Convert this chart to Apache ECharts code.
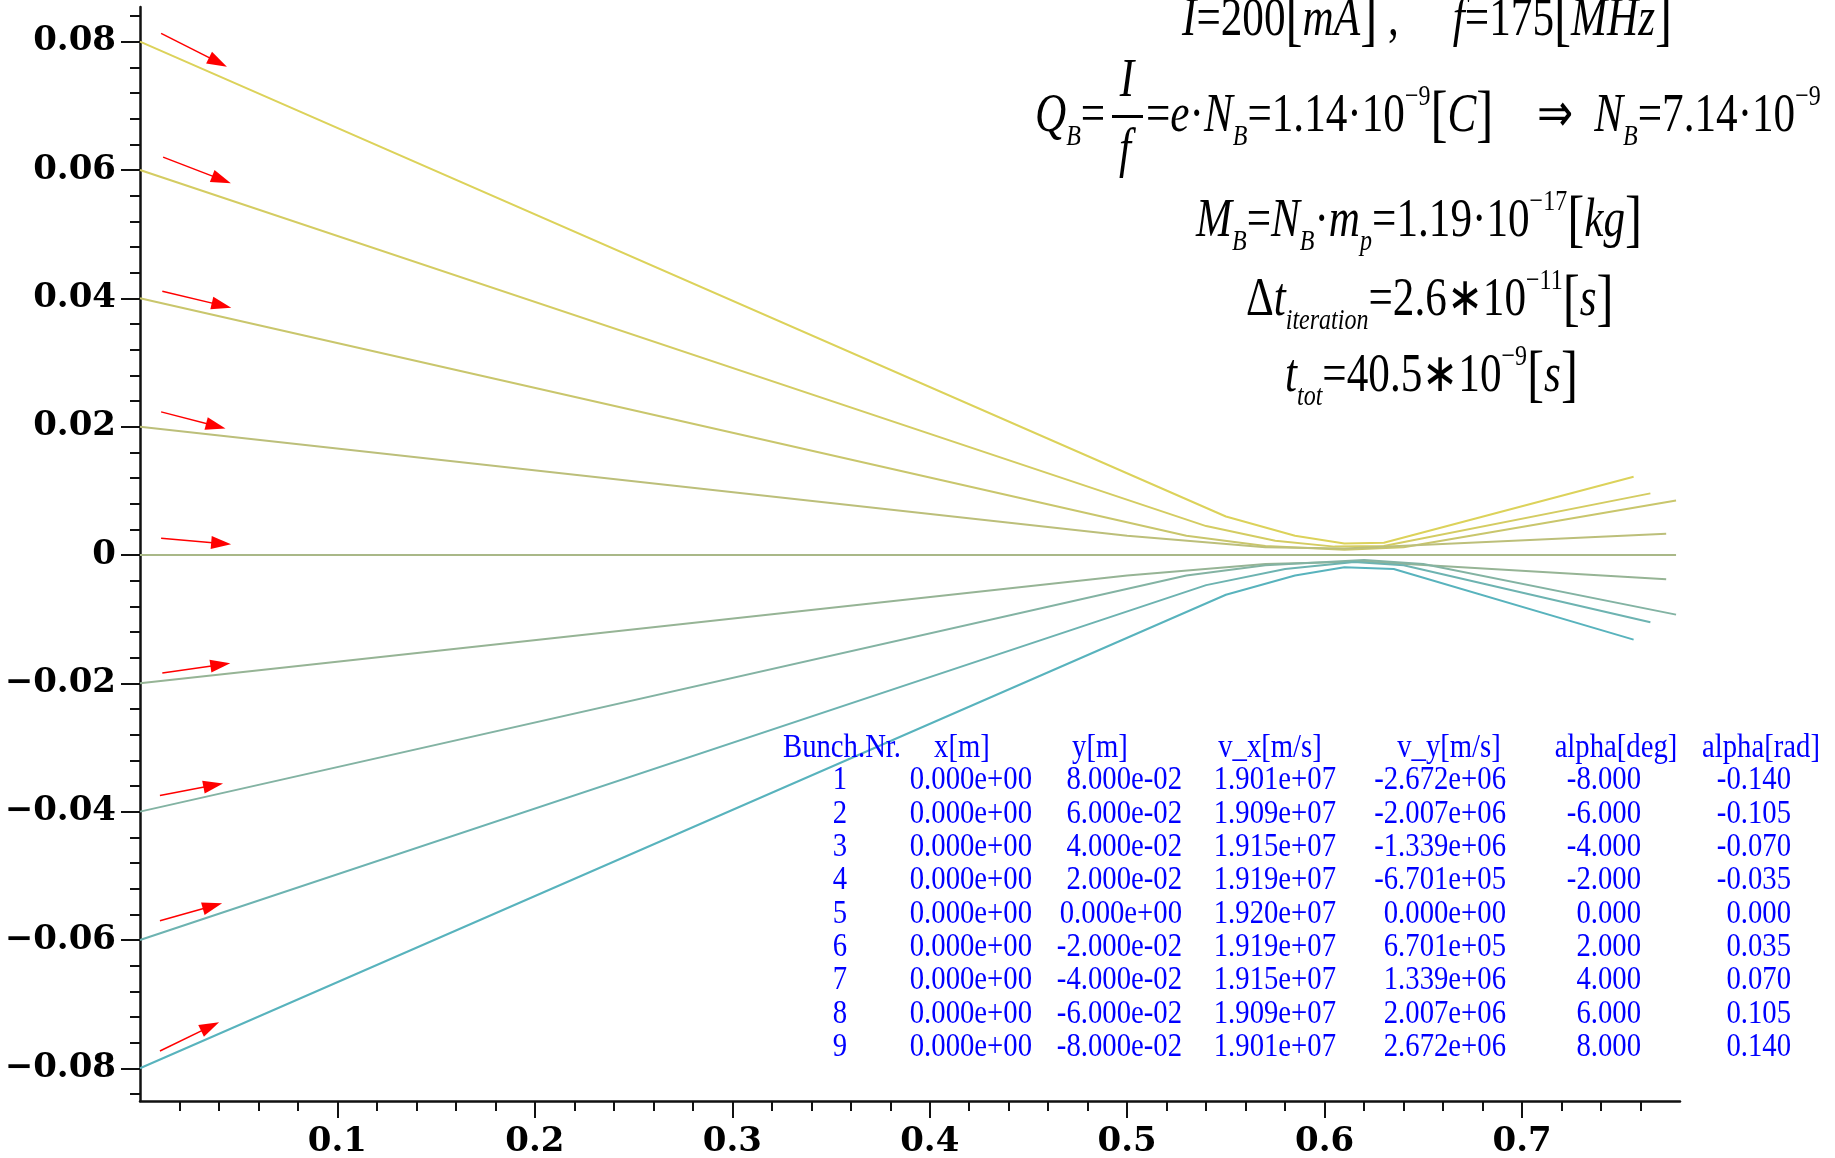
<!DOCTYPE html>
<html>
<head>
<meta charset="utf-8">
<script src="https://cdn.jsdelivr.net/npm/echarts@6/dist/echarts.min.js"></script>
<style>
  html, body { margin: 0; padding: 0; background: #fff; }
  #chart { width: 1835px; height: 1158px; }
</style>
</head>
<body>
<div id="chart"></div>
<script>
// bunch trajectories, y[m] against x[m]
const bunch1 = [[0, 0.08], [0.55, 0.0060], [0.585, 0.0030], [0.61, 0.0018], [0.63, 0.0019], [0.7565, 0.0122]];
const bunch2 = [[0, 0.06], [0.54, 0.0045], [0.575, 0.0022], [0.605, 0.0013], [0.63, 0.0014], [0.765, 0.0096]];
const bunch3 = [[0, 0.04], [0.53, 0.0030], [0.57, 0.0014], [0.61, 0.0008], [0.64, 0.0012], [0.778, 0.0085]];
const bunch4 = [[0, 0.02], [0.5, 0.0030], [0.57, 0.0012], [0.61, 0.0010], [0.773, 0.0033]];
const bunch5 = [[0, 0], [0.778, 0]];
const bunch6 = [[0, -0.02], [0.5, -0.0032], [0.57, -0.0014], [0.62, -0.0010], [0.773, -0.0038]];
const bunch7 = [[0, -0.04], [0.53, -0.0032], [0.57, -0.0016], [0.62, -0.0008], [0.65, -0.0014], [0.778, -0.0093]];
const bunch8 = [[0, -0.06], [0.54, -0.0047], [0.58, -0.0022], [0.615, -0.0011], [0.64, -0.0016], [0.765, -0.0105]];
const bunch9 = [[0, -0.08], [0.55, -0.0062], [0.585, -0.0032], [0.61, -0.0019], [0.635, -0.0022], [0.7565, -0.0132]];
const bunches = [bunch1, bunch2, bunch3, bunch4, bunch5, bunch6, bunch7, bunch8, bunch9];
const bunchColors = ['#dcd25a', '#d4cc62', '#c9c66c', '#bcbf7a', '#a9b888', '#96b495', '#83b3a3', '#6db3b1', '#58b3bd'];

// red start arrows [x1, y1, x2, y2]
const arrows = [
  [0.0107, 0.0813, 0.0395, 0.0768],
  [0.0117, 0.0620, 0.0413, 0.0585],
  [0.0113, 0.0411, 0.0413, 0.0389],
  [0.0107, 0.0223, 0.0384, 0.0201],
  [0.0107, 0.0026, 0.0411, 0.0018],
  [0.0113, -0.0184, 0.0407, -0.0171],
  [0.0101, -0.0375, 0.0371, -0.0359],
  [0.0101, -0.0570, 0.0367, -0.0547],
  [0.0101, -0.0773, 0.0355, -0.0735]
];

// ticks
const xMajorTicks = [0.1, 0.2, 0.3, 0.4, 0.5, 0.6, 0.7];
const xMinorTicks = [0.02, 0.04, 0.06, 0.08, 0.12, 0.14, 0.16, 0.18, 0.22, 0.24, 0.26, 0.28,
  0.32, 0.34, 0.36, 0.38, 0.42, 0.44, 0.46, 0.48, 0.52, 0.54, 0.56, 0.58,
  0.62, 0.64, 0.66, 0.68, 0.72, 0.74, 0.76];
const yMajorTicks = [-0.08, -0.06, -0.04, -0.02, 0, 0.02, 0.04, 0.06, 0.08];
const yMinorTicks = [];
for (let i = -21; i <= 21; i++) yMinorTicks.push(+(i * 0.004).toFixed(3));

// table
const tableHeaders = ['Bunch.Nr.', 'x[m]', 'y[m]', 'v_x[m/s]', 'v_y[m/s]', 'alpha[deg]', 'alpha[rad]'];
const bunchNr = ['1', '2', '3', '4', '5', '6', '7', '8', '9'];
const xPos = ['0.000e+00', '0.000e+00', '0.000e+00', '0.000e+00', '0.000e+00', '0.000e+00', '0.000e+00', '0.000e+00', '0.000e+00'];
const yPos = ['8.000e-02', '6.000e-02', '4.000e-02', '2.000e-02', '0.000e+00', '-2.000e-02', '-4.000e-02', '-6.000e-02', '-8.000e-02'];
const vX = ['1.901e+07', '1.909e+07', '1.915e+07', '1.919e+07', '1.920e+07', '1.919e+07', '1.915e+07', '1.909e+07', '1.901e+07'];
const vY = ['-2.672e+06', '-2.007e+06', '-1.339e+06', '-6.701e+05', '0.000e+00', '6.701e+05', '1.339e+06', '2.007e+06', '2.672e+06'];
const alphaDeg = ['-8.000', '-6.000', '-4.000', '-2.000', '0.000', '2.000', '4.000', '6.000', '8.000'];
const alphaRad = ['-0.140', '-0.105', '-0.070', '-0.035', '0.000', '0.035', '0.070', '0.105', '0.140'];

const myChart = echarts.init(document.getElementById('chart'));

const axisFont = {fontFamily: 'DejaVu Serif', fontWeight: 'bold', fontSize: 34, color: '#000'};

// formulas
const F = 'Liberation Serif';
const fRich = {
  i: {fontFamily: F, fontStyle: 'italic', fontSize: 54, lineHeight: 70, fill: '#000'},
  r: {fontFamily: F, fontSize: 54, lineHeight: 70, fill: '#000'},
  b: {fontFamily: F, fontSize: 64, lineHeight: 70, fill: '#000'},
  sb: {fontFamily: F, fontStyle: 'italic', fontSize: 30, lineHeight: 38, verticalAlign: 'bottom', fill: '#000'},
  sp: {fontFamily: F, fontSize: 30, lineHeight: 26, verticalAlign: 'top', fill: '#000'}
};
function formula(text, x, y, align) {
  return {
    type: 'text', x: x, y: y, scaleX: 0.8, z: 100,
    style: {text: text, rich: fRich, align: align || 'left', textAlign: align || 'left',
      verticalAlign: 'middle', textVerticalAlign: 'middle', fill: '#000'}
  };
}
const graphics = [
  formula('{i|I}{r|=200}{b|[}{i|mA}{b|]}{r| ,     }{i|f}{r|=175}{b|[}{i|MHz}{b|]}', 1182, 21),
  formula('{i|Q}{sb|B}{r|=}', 1035, 117),
  formula('{i|I}', 1127, 82, 'center'),
  {type: 'rect', z: 100, shape: {x: 1112, y: 115, width: 31, height: 3}, style: {fill: '#000'}},
  formula('{i|f}', 1125, 152, 'center'),
  formula('{r|=}{i|e}{r|·}{i|N}{sb|B}{r|=1.14·10}{sp|\u22129}{b|[}{i|C}{b|]}{r|    \u21d2  }{i|N}{sb|B}{r|=7.14·10}{sp|\u22129}', 1146, 117),
  formula('{i|M}{sb|B}{r|=}{i|N}{sb|B}{r|·}{i|m}{sb|p}{r|=1.19·10}{sp|\u221217}{b|[}{i|kg}{b|]}', 1196, 222),
  formula('{r|\u0394}{i|t}{sb|iteration}{r|=2.6\u221710}{sp|\u221211}{b|[}{i|s}{b|]}', 1246, 301),
  formula('{i|t}{sb|tot}{r|=40.5\u221710}{sp|\u22129}{b|[}{i|s}{b|]}', 1285, 377)
];

// table text
function cell(text, x, y, align) {
  return {
    type: 'text', x: x, y: y, scaleX: 0.87, z: 100,
    style: {text: text, fontFamily: F, fontSize: 33, fill: '#0000ff',
      align: align, textAlign: align, verticalAlign: 'middle', textVerticalAlign: 'middle'}
  };
}
const headerX = [783, 962, 1100, 1270, 1449, 1616, 1761];
tableHeaders.forEach((h, k) => {
  graphics.push(cell(h, headerX[k], 748, k === 0 ? 'left' : 'center'));
});
const columns = [
  {vals: bunchNr, x: 840, align: 'center'},
  {vals: xPos, x: 1032, align: 'right'},
  {vals: yPos, x: 1182, align: 'right'},
  {vals: vX, x: 1336, align: 'right'},
  {vals: vY, x: 1506, align: 'right'},
  {vals: alphaDeg, x: 1641, align: 'right'},
  {vals: alphaRad, x: 1791, align: 'right'}
];
columns.forEach((c) => {
  c.vals.forEach((v, r) => {
    graphics.push(cell(v, c.x, 780.5 + r * 33.35, c.align));
  });
});

const series = bunches.map((b, k) => ({
  type: 'line',
  data: b,
  showSymbol: false,
  symbol: 'none',
  lineStyle: {color: bunchColors[k], width: 2},
  z: 2
}));
series.push({
  type: 'line',
  data: [],
  markLine: {
    silent: true,
    animation: false,
    symbol: ['none', 'triangle'],
    symbolSize: [13, 20],
    label: {show: false},
    lineStyle: {color: '#ff0000', width: 1.5, type: 'solid'},
    data: arrows.map(a => [{coord: [a[0], a[1]]}, {coord: [a[2], a[3]]}])
  }
});

const option = {
  backgroundColor: '#fff',
  animation: false,
  grid: {left: 140, top: 7, width: 1540, height: 1094, containLabel: false, outerBoundsMode: 'none'},
  xAxis: [{
    type: 'value', min: 0, max: 0.78, position: 'bottom',
    axisLine: {show: true, onZero: false, lineStyle: {color: '#111', width: 2.5}},
    axisTick: {show: true, customValues: xMajorTicks, length: 17, lineStyle: {color: '#111', width: 2}},
    axisLabel: {customValues: xMajorTicks, margin: 24, formatter: (v) => v.toFixed(1), ...axisFont},
    splitLine: {show: false}
  }, {
    type: 'value', min: 0, max: 0.78, position: 'bottom',
    axisLine: {show: false, onZero: false},
    axisTick: {show: true, customValues: xMinorTicks, length: 10, lineStyle: {color: '#111', width: 2}},
    axisLabel: {show: false},
    splitLine: {show: false}
  }],
  yAxis: [{
    type: 'value', min: -0.0851, max: 0.0854, position: 'left',
    axisLine: {show: true, onZero: false, lineStyle: {color: '#111', width: 2.5}},
    axisTick: {show: true, customValues: yMajorTicks, length: 19, lineStyle: {color: '#111', width: 2}},
    axisLabel: {customValues: yMajorTicks, margin: 24,
      formatter: (v) => Math.abs(v) < 1e-9 ? '0' : (v < 0 ? '\u2212' : '') + Math.abs(v).toFixed(2), ...axisFont},
    splitLine: {show: false}
  }, {
    type: 'value', min: -0.0851, max: 0.0854, position: 'left',
    axisLine: {show: false, onZero: false},
    axisTick: {show: true, customValues: yMinorTicks, length: 10, lineStyle: {color: '#111', width: 2}},
    axisLabel: {show: false},
    splitLine: {show: false}
  }],
  series: series,
  graphic: graphics
};

myChart.setOption(option);
</script>
</body>
</html>
